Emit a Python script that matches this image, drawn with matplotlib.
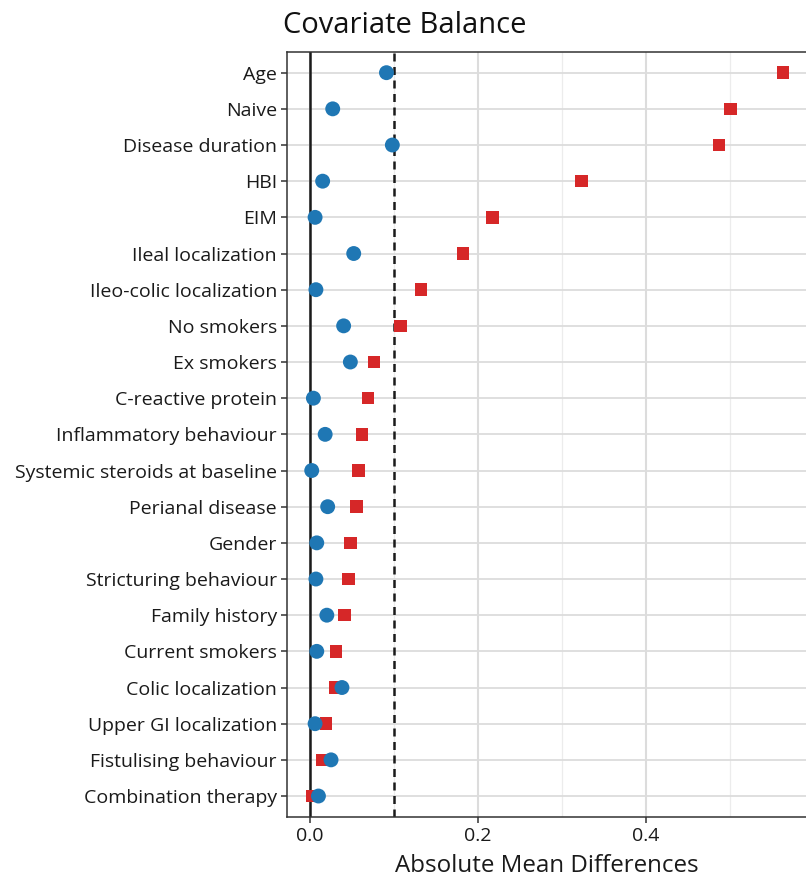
import matplotlib
matplotlib.use("Agg")
import matplotlib.pyplot as plt
from matplotlib.ticker import MultipleLocator

plt.rcParams['font.family'] = ['Open Sans', 'DejaVu Sans']

covariates = [
    "Age", "Naive", "Disease duration", "HBI", "EIM", "Ileal localization",
    "Ileo-colic localization", "No smokers", "Ex smokers", "C-reactive protein",
    "Inflammatory behaviour", "Systemic steroids at baseline", "Perianal disease",
    "Gender", "Stricturing behaviour", "Family history", "Current smokers",
    "Colic localization", "Upper GI localization", "Fistulising behaviour",
    "Combination therapy",
]
unadjusted = [
    0.563, 0.501, 0.487, 0.323, 0.217, 0.182,
    0.132, 0.108, 0.076, 0.069,
    0.062, 0.058, 0.055,
    0.048, 0.046, 0.041, 0.031,
    0.030, 0.019, 0.015,
    0.003,
]
adjusted = [
    0.091, 0.027, 0.098, 0.015, 0.006, 0.052,
    0.007, 0.040, 0.048, 0.004,
    0.018, 0.002, 0.021,
    0.008, 0.007, 0.020, 0.008,
    0.038, 0.006, 0.025,
    0.010,
]
threshold = 0.1
x_ticks = [0.0, 0.2, 0.4]

W, H = 806, 880
fig = plt.figure(figsize=(W / 100, H / 100), dpi=100)
left, right, top, bottom = 286.7, 806, 51.7, 817
ax = fig.add_axes([left / W, 1 - bottom / H, (right - left) / W, (bottom - top) / H])

n = len(covariates)
ypos = list(range(n))

ax.set_xlim(-0.0278, 0.5906)
ax.set_ylim(n - 1 + 0.58, -0.58)

# grid
ax.xaxis.set_major_locator(MultipleLocator(0.2))
ax.xaxis.set_minor_locator(MultipleLocator(0.1))
ax.grid(axis='x', which='major', color='#dcdcdc', linewidth=1.5, zorder=0)
ax.grid(axis='x', which='minor', color='#ececec', linewidth=0.9, zorder=0)
ax.grid(axis='y', which='major', color='#dcdcdc', linewidth=1.3, zorder=0)
ax.set_axisbelow(True)

ax.axvline(0, color='#1a1a1a', linewidth=1.8, zorder=1)
ax.axvline(threshold, color='#1a1a1a', linewidth=1.8, linestyle=(0, (3.2, 2.2)), zorder=1)

ax.scatter(unadjusted, ypos, marker='s', s=82, color='#d62728',
           edgecolors='none', zorder=3)
ax.scatter(adjusted, ypos, marker='o', s=115, color='#1f77b4',
           edgecolors='none', zorder=4)

ax.set_yticks(ypos)
ax.set_yticklabels(covariates)
ax.set_xticks(x_ticks)
ax.set_xticklabels([f"{t:.1f}" for t in x_ticks])

ax.spines['right'].set_visible(False)
for s in ['left', 'top', 'bottom']:
    ax.spines[s].set_color('#333333')
    ax.spines[s].set_linewidth(1.1)

ax.tick_params(axis='both', which='major', length=4, width=1.1, color='#333333',
               labelsize=14, labelcolor='#1a1a1a', pad=3)
ax.tick_params(axis='x', which='minor', length=0)

ax.set_xlabel("Absolute Mean Differences", fontsize=17.4, color='#1a1a1a', labelpad=7)
fig.text(left / W - 0.004, 1 - 33 / H, "Covariate Balance", fontsize=21,
         color='#111111', ha='left', va='baseline')

fig.savefig("out.png", dpi=100)
